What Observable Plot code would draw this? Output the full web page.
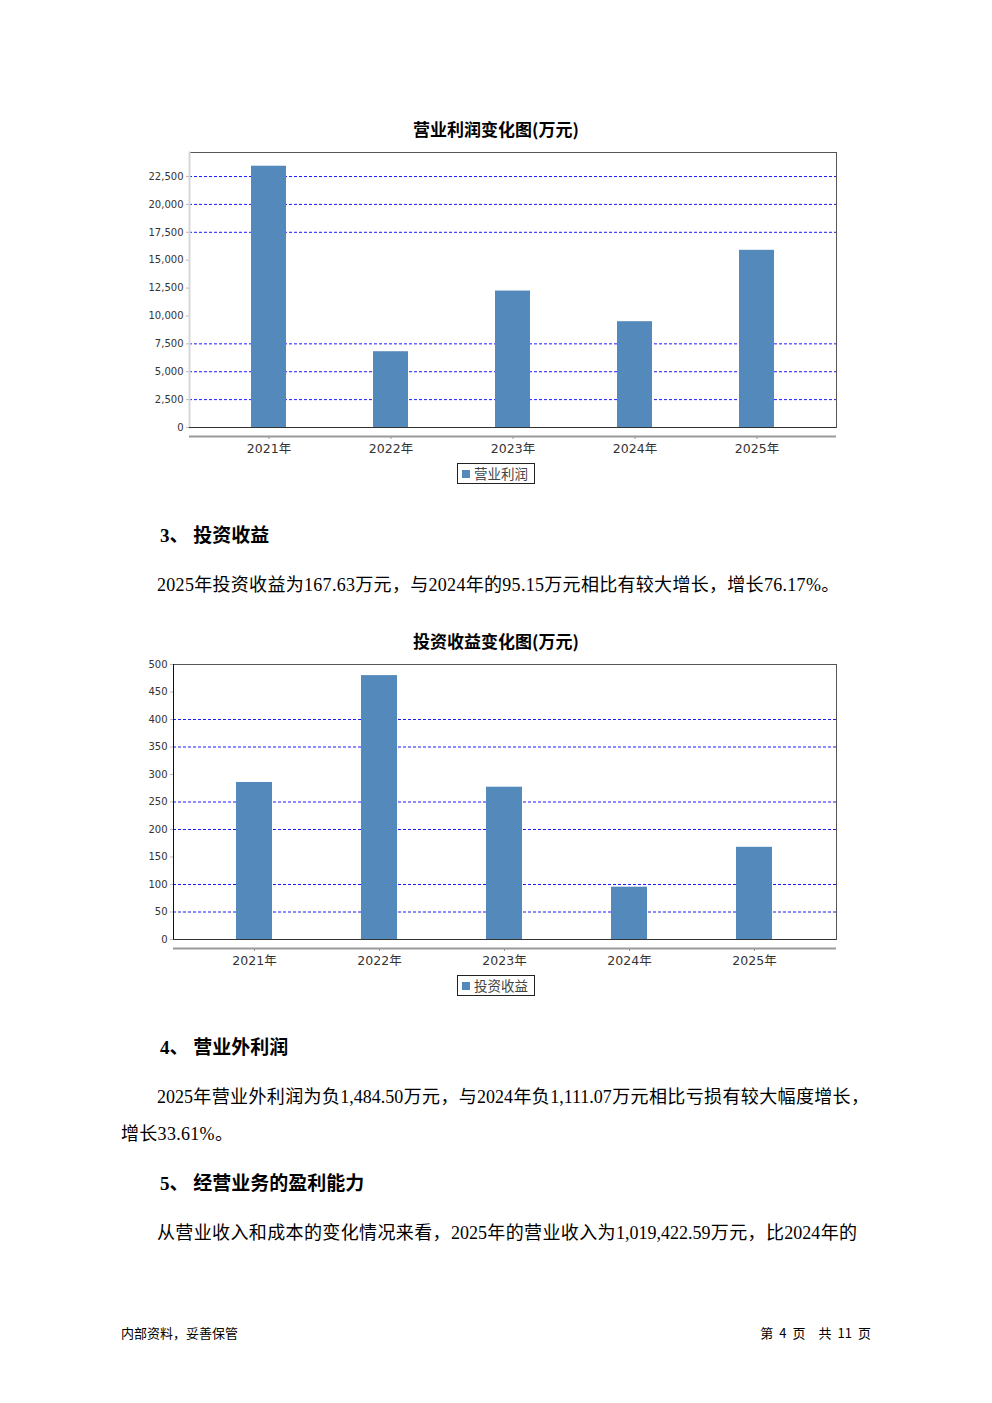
<!DOCTYPE html>
<html>
<head>
<meta charset="utf-8">
<script src="https://cdn.jsdelivr.net/npm/d3@7"></script>
<script src="https://cdn.jsdelivr.net/npm/@observablehq/plot@0.6"></script>
<style>
  html, body { margin: 0; padding: 0; background: #fff; }
  body { width: 992px; height: 1403px; position: relative; overflow: hidden;
         font-family: "Liberation Serif", "Noto Sans CJK SC", serif; color: #000; }
  .abs { position: absolute; white-space: nowrap; }
  .title { position: absolute; width: 992px; left: 0; text-align: center; font-weight: bold;
           font-size: 17px; line-height: 20px; font-family: "Noto Sans CJK SC", sans-serif; }
  .chart { position: absolute; left: 140px; }
  .legend { position: absolute; left: 457px; width: 76px; height: 19px; border: 1px solid #222;
            font-family: "Noto Sans CJK SC", sans-serif; font-size: 13.5px; line-height: 19px; color: #444; }
  .legend .sw { position: absolute; left: 4px; top: 6px; width: 8px; height: 8px; background: #5489bc; }
  .legend .lt { position: absolute; left: 16px; top: 0; }
  .h { font-weight: bold; font-size: 19px; line-height: 24px; }
  .p { font-size: 18px; line-height: 24px; letter-spacing: 0.3px; }
  .just { text-align: justify; text-align-last: justify; white-space: normal; letter-spacing: 0; }
  .foot { font-size: 13px; line-height: 16px; font-family: "Noto Sans CJK SC", sans-serif; }
  .foot span { display: inline-block; }
</style>
</head>
<body>
<div class="title" style="top:119px">营业利润变化图(万元)</div>
<div class="chart" id="c1" style="top:140px"></div>
<div class="legend" style="top:463px"><div class="sw"></div><div class="lt">营业利润</div></div>

<div class="abs h" style="left:160px; top:524px">3、&nbsp;投资收益</div>
<div class="abs p" style="left:157px; top:573px">2025年投资收益为167.63万元，与2024年的95.15万元相比有较大增长，增长76.17%。</div>

<div class="title" style="top:631px">投资收益变化图(万元)</div>
<div class="chart" id="c2" style="top:652px"></div>
<div class="legend" style="top:975px"><div class="sw"></div><div class="lt">投资收益</div></div>

<div class="abs h" style="left:160px; top:1036px">4、&nbsp;营业外利润</div>
<div class="abs p just" style="left:157px; top:1085px; width:712px">2025年营业外利润为负1,484.50万元，与2024年负1,111.07万元相比亏损有较大幅度增长，</div>
<div class="abs p" style="left:121px; top:1122px">增长33.61%。</div>
<div class="abs h" style="left:160px; top:1172px">5、&nbsp;经营业务的盈利能力</div>
<div class="abs p just" style="left:157px; top:1221px; width:700px">从营业收入和成本的变化情况来看，2025年的营业收入为1,019,422.59万元，比2024年的</div>

<div class="abs foot" style="left:121px; top:1325px">内部资料，妥善保管</div>
<div class="abs foot" style="right:121px; top:1325px"><span>第</span><span style="margin-left:6px">4</span><span style="margin-left:6px">页</span><span style="margin-left:13px">共</span><span style="margin-left:6px">11</span><span style="margin-left:6px">页</span></div>

<script>
const years = ["2021年", "2022年", "2023年", "2024年", "2025年"];
const operatingProfit = [23425, 6794, 12233, 9487, 15886];
const investmentIncome = [285.5, 479.8, 276.9, 95.15, 167.63];
const profitTicks = [0, 2500, 5000, 7500, 10000, 12500, 15000, 17500, 20000, 22500];
const profitGrid = [2500, 5000, 7500, 17500, 20000, 22500];
const incomeTicks = [0, 50, 100, 150, 200, 250, 300, 350, 400, 450, 500];
const incomeGrid = [50, 100, 200, 250, 350, 400, 500];

function chart({values, ticks, grid, yMax, marginLeft, leftAxisColor, leftAxisWidth}) {
  const data = years.map((year, i) => ({year, value: values[i]}));
  return Plot.plot({
    width: 710,
    height: 320,
    marginLeft,
    marginRight: 14,
    marginTop: 12,
    marginBottom: 33,
    style: {fontFamily: "'DejaVu Sans', 'Noto Sans CJK SC', sans-serif", background: "white", color: "#333", overflow: "visible"},
    x: {domain: years, paddingInner: 0.71, paddingOuter: 0.49, label: null},
    y: {domain: [0, yMax], label: null},
    marks: [
      Plot.ruleY(grid, {stroke: "#1a1aff", strokeDasharray: "3,2", strokeWidth: 1}),
      Plot.barY(data, {x: "year", y: "value", fill: "#5489bc"}),
      Plot.frame({stroke: "#555"}),
      Plot.frame({anchor: "left", stroke: leftAxisColor, strokeWidth: leftAxisWidth}),
      Plot.ruleY([0], {stroke: "#333"}),
      Plot.ruleY([0], {dy: 9, stroke: "#999", strokeWidth: 2}),
      Plot.axisY(ticks, {tickFormat: d3.format(","), tickSize: 3, tickPadding: 3, fontSize: 10, stroke: "#bbb", fill: "#333"}),
      Plot.axisX({dy: 9, tickSize: 3, tickPadding: 5, fontSize: 12.5, stroke: "#999", fill: "#333"})
    ]
  });
}

document.getElementById("c1").appendChild(chart({
  values: operatingProfit, ticks: profitTicks, grid: profitGrid, yMax: 24655,
  marginLeft: 49, leftAxisColor: "#d8d8d8", leftAxisWidth: 2
}));
document.getElementById("c2").appendChild(chart({
  values: investmentIncome, ticks: incomeTicks, grid: incomeGrid, yMax: 500,
  marginLeft: 33, leftAxisColor: "#111", leftAxisWidth: 1
}));
</script>
</body>
</html>
